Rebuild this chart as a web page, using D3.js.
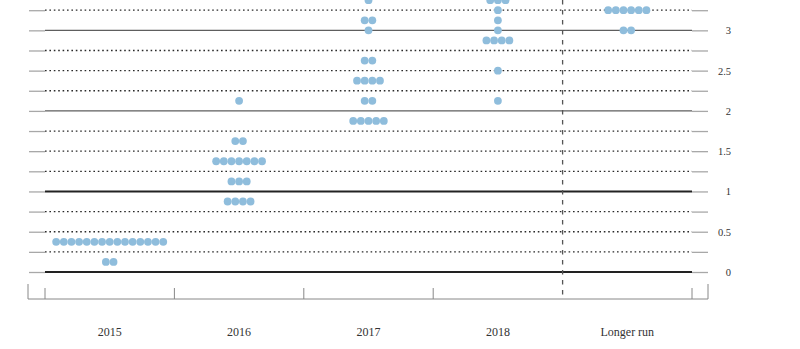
<!DOCTYPE html>
<html>
<head>
<meta charset="utf-8">
<script src="https://cdn.jsdelivr.net/npm/d3@7"></script>
<style>
  html, body { margin: 0; padding: 0; background: #fff; }
  svg { display: block; }
  text { font-family: "Liberation Serif", "DejaVu Serif", serif; fill: #333; }
</style>
</head>
<body>
<svg id="chart" width="800" height="349"></svg>
<script>
// Projection periods along the bottom
const periods = ["2015", "2016", "2017", "2018", "Longer run"];

// Each participant's projected midpoint rate, as [rate, number of participants]
const dots2015 = [[0.375, 15], [0.125, 2]];
const dots2016 = [[2.125, 1], [1.625, 2], [1.375, 7], [1.125, 3], [0.875, 4]];
const dots2017 = [[3.375, 1], [3.125, 2], [3.0, 1], [2.625, 2], [2.375, 4], [2.125, 2], [1.875, 5]];
const dots2018 = [[3.375, 3], [3.25, 1], [3.125, 1], [3.0, 1], [2.875, 4], [2.5, 1], [2.125, 1]];
const dotsLonger = [[3.25, 6], [3.0, 2]];
const dotsByPeriod = [dots2015, dots2016, dots2017, dots2018, dotsLonger];

// Rate axis labels
const yTickValues = [0, 0.5, 1, 1.5, 2, 2.5, 3];
const yTickLabels = ["0", "0.5", "1", "1.5", "2", "2.5", "3"];

const svg = d3.select("#chart");

const plotLeft = 45, plotRight = 692;
const x = d3.scaleBand().domain(periods).range([plotLeft, plotRight]);
const y = d3.scaleLinear().domain([0, 3.5]).range([272, 272 - 3.5 * 80.55]);

// Grid rows every quarter point
const gridValues = d3.range(0, 3.5001, 0.25);
const isWhole = v => Math.abs(v - Math.round(v)) < 1e-9;

const grid = svg.append("g");
grid.selectAll("line")
  .data(gridValues)
  .join("line")
  .attr("x1", plotLeft)
  .attr("x2", plotRight)
  .attr("y1", d => y(d))
  .attr("y2", d => y(d))
  .attr("stroke", d => (d <= 1 && isWhole(d)) ? "#222" : (isWhole(d) ? "#5e5e5e" : "#2a2a2a"))
  .attr("stroke-width", d => (d <= 1 && isWhole(d)) ? 2 : (isWhole(d) ? 1.4 : 1.3))
  .attr("stroke-dasharray", d => isWhole(d) ? null : "1.6,2.8");

// Short tick stubs on the left side
const leftAxis = d3.axisLeft(y).tickValues(gridValues).tickSize(16).tickFormat("");
svg.append("g")
  .attr("transform", `translate(${plotLeft},0)`)
  .call(leftAxis)
  .call(g => g.select(".domain").remove())
  .call(g => g.selectAll(".tick line").attr("stroke", "#a8a8a8").attr("stroke-width", 1.3));

// Right side stubs with rate labels
const labelFor = v => {
  const i = yTickValues.findIndex(t => Math.abs(t - v) < 1e-9);
  return i >= 0 ? yTickLabels[i] : "";
};
const rightAxis = d3.axisRight(y).tickValues(gridValues).tickSize(16).tickFormat(labelFor);
svg.append("g")
  .attr("transform", `translate(${plotRight},0)`)
  .call(rightAxis)
  .call(g => g.select(".domain").remove())
  .call(g => g.selectAll(".tick line").attr("stroke", "#a8a8a8").attr("stroke-width", 1.3))
  .call(g => g.selectAll(".tick text")
    .attr("x", 39)
    .attr("text-anchor", "end")
    .style("font-family", "'Liberation Serif', 'DejaVu Serif', serif")
    .style("font-size", "10.5px")
    .style("fill", "#333"));

// Dashed separator before the longer-run column
const sepX = x("Longer run");
svg.append("line")
  .attr("x1", sepX).attr("x2", sepX)
  .attr("y1", 0).attr("y2", 299)
  .attr("stroke", "#555")
  .attr("stroke-width", 1.3)
  .attr("stroke-dasharray", "4.5,5.5");

// Bottom axis: baseline and period boundary ticks
const axisY = 299;
const axisG = svg.append("g").attr("stroke", "#888").attr("stroke-width", 1);
axisG.append("line").attr("x1", 28).attr("x2", 708).attr("y1", axisY).attr("y2", axisY);
const edges = periods.map(p => x(p)).concat([plotRight]).filter(e => Math.abs(e - sepX) > 0.5);
axisG.selectAll("line.edge")
  .data(edges)
  .join("line")
  .attr("class", "edge")
  .attr("x1", d => d).attr("x2", d => d)
  .attr("y1", axisY - 11).attr("y2", axisY);
axisG.selectAll("line.outer")
  .data([28, 708])
  .join("line")
  .attr("class", "outer")
  .attr("x1", d => d).attr("x2", d => d)
  .attr("y1", axisY - 15).attr("y2", axisY);

// Period labels
svg.append("g")
  .selectAll("text")
  .data(periods)
  .join("text")
  .attr("x", d => x(d) + x.bandwidth() / 2)
  .attr("y", 336)
  .attr("text-anchor", "middle")
  .style("font-size", "12px")
  .text(d => d);

// Participant dots, centred in each period column
const spacing = 7.65, radius = 3.9;
const dotData = [];
dotsByPeriod.forEach((rows, i) => {
  const cx = x(periods[i]) + x.bandwidth() / 2;
  rows.forEach(([rate, n]) => {
    for (let k = 0; k < n; k++) {
      dotData.push({ x: cx + (k - (n - 1) / 2) * spacing, rate });
    }
  });
});
svg.append("g")
  .selectAll("circle")
  .data(dotData)
  .join("circle")
  .attr("cx", d => d.x)
  .attr("cy", d => y(d.rate))
  .attr("r", radius)
  .attr("fill", "#8fbddc");
</script>
</body>
</html>
